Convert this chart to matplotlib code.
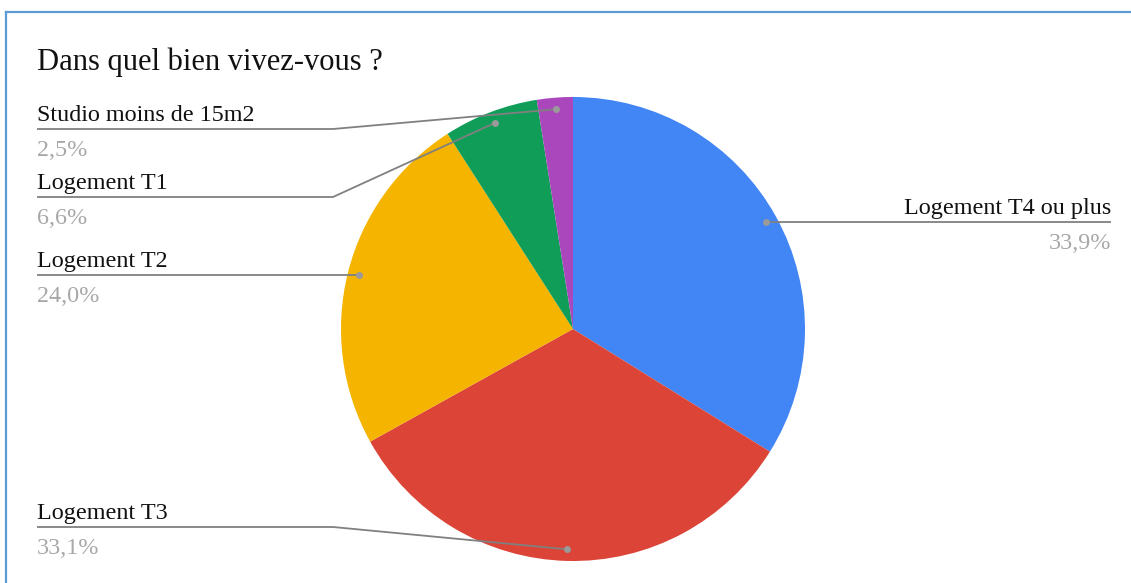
import numpy as np
import matplotlib.pyplot as plt
from matplotlib.lines import Line2D

# data
labels = ['Logement T4 ou plus', 'Logement T3', 'Logement T2', 'Logement T1', 'Studio moins de 15m2']
shares = [33.9, 33.1, 24.0, 6.6, 2.5]
colors = ['#4285F4', '#DB4437', '#F4B400', '#0F9D58', '#AB47BC']
title = 'Dans quel bien vivez-vous ?'

W, H = 1131, 583
def Y(y):  # image row -> axes coord (y up)
    return H - y

plt.rcParams['font.family'] = ['Liberation Serif', 'DejaVu Serif']

fig = plt.figure(figsize=(W / 100, H / 100), dpi=100)
ax = fig.add_axes([0, 0, 1, 1])

cx, cy, r = 573, Y(329), 232
wedges, _ = ax.pie(shares, colors=colors, startangle=90, counterclock=False,
                   center=(cx, cy), radius=r, wedgeprops=dict(linewidth=0))
ax.set_xlim(0, W)
ax.set_ylim(0, H)
ax.set_aspect('equal')
ax.axis('off')

# label layout: (side, line row in image or None = row of the dot, elbow x)
layout = {
    'Logement T4 ou plus': ('right', None, None),
    'Logement T3': ('left', 527, 333),
    'Logement T2': ('left', None, None),
    'Logement T1': ('left', 197, 333),
    'Studio moins de 15m2': ('left', 129, 333),
}
lc = '#808080'
for w, lab, val in zip(wedges, labels, shares):
    mid = np.deg2rad((w.theta1 + w.theta2) / 2)
    dx, dy = cx + 0.95 * r * np.cos(mid), cy + 0.95 * r * np.sin(mid)
    side, row, elbow = layout[lab]
    ly = dy if row is None else Y(row)
    if side == 'right':
        xs, ys = [dx, 1111], [ly, ly]
        tx, ha = 1111, 'right'
    else:
        if elbow is None:
            xs, ys = [37, dx], [ly, ly]
        else:
            xs, ys = [37, elbow, dx], [ly, ly, dy]
        tx, ha = 37, 'left'
    ax.plot(xs, ys, color=lc, lw=1.3, solid_capstyle='butt')
    ax.plot(dx, dy, 'o', color='#9a9a9a', ms=5, mec='none')
    ax.text(tx, ly + 8, lab, ha=ha, va='baseline', fontsize=17.4, color='#111111')
    ax.text(tx, ly - 11, f'{val:.1f}%'.replace('.', ','), ha=ha, va='top',
            fontsize=17.4, color='#a8a8a8')

ax.text(37, Y(70), title, ha='left', va='baseline', fontsize=22, color='#111111')

# frame
fig.add_artist(Line2D([6 / W, 6 / W], [0, Y(12) / H], color='#5b9bd5', lw=1.6,
                      transform=fig.transFigure))
fig.add_artist(Line2D([6 / W, 1], [Y(12) / H, Y(12) / H], color='#5b9bd5', lw=1.6,
                      transform=fig.transFigure))

fig.savefig('out.png', dpi=100, facecolor='white')
